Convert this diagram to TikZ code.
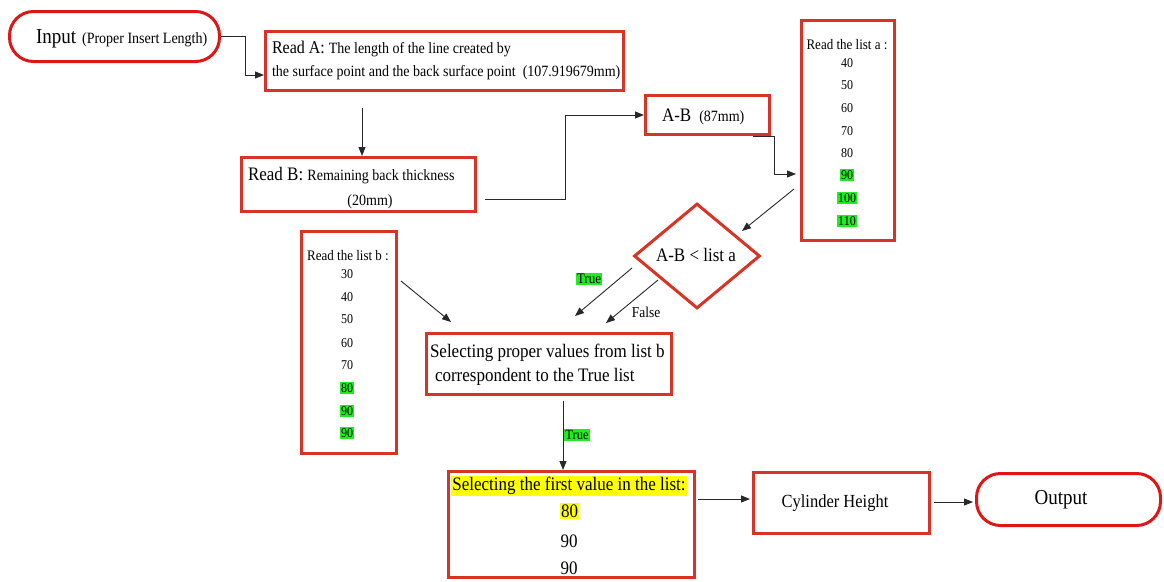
\documentclass[tikz,border=0pt]{standalone}
\usepackage{graphicx}
\usepackage{fontspec}
\setmainfont{Liberation Serif}
\usetikzlibrary{arrows.meta,shapes.geometric}

\definecolor{boxred}{RGB}{216,52,38}
\definecolor{termred}{RGB}{222,22,22}
\definecolor{hlgreen}{RGB}{30,238,30}
\definecolor{hlyellow}{RGB}{255,255,0}
\definecolor{linegray}{RGB}{40,40,40}

% font size in pt (1pt = one pixel of the drawing)
\newcommand\sz[1]{\fontsize{#1}{#1}\selectfont}
% slightly condensed-looking lettering: stretch text vertically
\newcommand\tl[1]{\scalebox{1}[1.12]{#1}}

\begin{document}
\begin{tikzpicture}[x=1pt,y=-1pt,
  box/.style={draw=boxred, line width=3pt, inner sep=0pt},
  term/.style={draw=termred, line width=3pt, rounded corners=24pt, inner sep=0pt},
  diam/.style={draw=boxred, line width=3pt, diamond, inner sep=0pt},
  txt/.style={inner sep=0pt, outer sep=0pt},
  conn/.style={draw=linegray, line width=0.9pt, -{Triangle[length=9pt,width=7pt]}},
  hlg/.style={fill=hlgreen, inner sep=1.2pt},
  hly/.style={fill=hlyellow, inner sep=1.2pt}]

\useasboundingbox (0,0) rectangle (1164,581);

% ---- shapes ----
\node[term, minimum width=210pt, minimum height=50pt] (in)  at (114.5,36.5) {};
\node[box,  minimum width=358pt, minimum height=59pt] (ra)  at (444.5,61) {};
\node[box,  minimum width=234pt, minimum height=54pt] (rb)  at (358.5,184.5) {};
\node[box,  minimum width=124pt, minimum height=39pt] (ab)  at (707.5,115) {};
\node[box,  minimum width=93pt,  minimum height=220pt] (la) at (848,130.5) {};
\node[diam, minimum width=126pt, minimum height=105pt] (dm) at (697,256) {};
\node[box,  minimum width=95pt,  minimum height=222pt] (lb) at (349,342.5) {};
\node[box,  minimum width=245pt, minimum height=61pt] (sel) at (549,364) {};
\node[box,  minimum width=246pt, minimum height=106pt] (sf) at (571.5,524.5) {};
\node[box,  minimum width=176pt, minimum height=61pt] (cyl) at (841.5,503) {};
\node[term, minimum width=184pt, minimum height=52pt] (out) at (1068.5,499.5) {};

% ---- texts ----
\node[txt, anchor=base west] (inT) at (36,43) {\tl{\sz{19}Input\hspace{6pt}\sz{14}(Proper Insert Length)}};

\node[txt, anchor=base west] (raT1) at (272,53) {\tl{\sz{16}Read A: \sz{14}The length of the line created by}};
\node[txt, anchor=base west] (raT2) at (272,76) {\tl{\sz{14}the surface point and the back surface point\ \ (107.919679mm)}};

\node[txt, anchor=base west] (rbT1) at (248,180) {\tl{\sz{17}Read B: \sz{14}Remaining back thickness}};
\node[txt, anchor=base] (rbT2) at (370,205) {\tl{\sz{14}(20mm)}};

\node[txt, anchor=base west] (abT) at (662,121) {\tl{\sz{17}A-B\hspace{8pt}\sz{14}(87mm)}};

% list a
\node[txt, anchor=base] (laT) at (847,49) {\tl{\sz{13}Read the list a :}};
\node[txt] (la1) at (847,63)  {\tl{\sz{12}40}};
\node[txt] (la2) at (847,85)  {\tl{\sz{12}50}};
\node[txt] (la3) at (847,108) {\tl{\sz{12}60}};
\node[txt] (la4) at (847,131) {\tl{\sz{12}70}};
\node[txt] (la5) at (847,153) {\tl{\sz{12}80}};
\node[hlg] (la6) at (847,175) {\tl{\sz{12}90}};
\node[hlg] (la7) at (847,198) {\tl{\sz{12}100}};
\node[hlg] (la8) at (847,221) {\tl{\sz{12}110}};

\node[txt] (dmT) at (696,255) {\tl{\sz{17}A-B < list a}};

% list b
\node[txt, anchor=base] (lbT) at (348,260) {\tl{\sz{13}Read the list b :}};
\node[txt] (lb1) at (347,274) {\tl{\sz{12}30}};
\node[txt] (lb2) at (347,297) {\tl{\sz{12}40}};
\node[txt] (lb3) at (347,319) {\tl{\sz{12}50}};
\node[txt] (lb4) at (347,343) {\tl{\sz{12}60}};
\node[txt] (lb5) at (347,365) {\tl{\sz{12}70}};
\node[hlg] (lb6) at (347,388) {\tl{\sz{12}80}};
\node[hlg] (lb7) at (347,411) {\tl{\sz{12}90}};
\node[hlg] (lb8) at (347,433) {\tl{\sz{12}90}};

\node[txt, anchor=base west] (selT1) at (430,357) {\tl{\sz{17}Selecting proper values from list b}};
\node[txt, anchor=base west] (selT2) at (435,381) {\tl{\sz{17}correspondent to the True list}};

\node[hly] (sfT) at (569,486) {\tl{\sz{17}Selecting the first value in the list:}};
\node[hly] (sf1) at (569.5,511) {\tl{\sz{17}80}};
\node[txt] (sf2) at (569,541) {\tl{\sz{17}90}};
\node[txt] (sf3) at (569,568) {\tl{\sz{17}90}};

\node[txt] (cylT) at (835,503) {\tl{\sz{16.5}Cylinder Height}};
\node[txt] (outT) at (1061,500) {\tl{\sz{19}Output}};

% labels on connectors
\node[hlg] (lblTrue1) at (589,279) {\tl{\sz{13}True}};
\node[txt] (lblFalse) at (646,312) {\tl{\sz{13.5}False}};
\node[hlg] (lblTrue2) at (577,435) {\tl{\sz{12.5}True}};

% ---- connector end points ----
\coordinate (raIn)  at (264,75);
\coordinate (raOut) at (362,108);
\coordinate (rbOut) at (485,199);
\coordinate (abOut) at (753,136);
\coordinate (laIn)  at (796,174);
\coordinate (laOut) at (794,189);
\coordinate (dmIn)  at (742,231);
\coordinate (dmTr)  at (632,268);
\coordinate (selTr) at (575,316);
\coordinate (dmFa)  at (658,280);
\coordinate (selFa) at (606,323);
\coordinate (lbOut) at (401,281);
\coordinate (selLb) at (451,322);
\coordinate (selOut) at (563,401);
\coordinate (sfOut) at (698,499);
\coordinate (cylIn) at (750,499);
\coordinate (cylOut) at (934,502);
\coordinate (outIn) at (973,502);

% ---- connectors ----
\draw[conn] (in.east) -- ++(24,0) |- (raIn);
\draw[conn] (raOut) -- (raOut |- rb.north);
\draw[conn] (rbOut) -- ++(80,0) |- (ab.west);
\draw[conn] (abOut) -- ++(21,0) |- (laIn);
\draw[conn] (laOut) -- (dmIn);
\draw[conn] (dmTr) -- (selTr);
\draw[conn] (dmFa) -- (selFa);
\draw[conn] (lbOut) -- (selLb);
\draw[conn] (selOut) -- (selOut |- sf.north);
\draw[conn] (sfOut) -- (cylIn);
\draw[conn] (cylOut) -- (outIn);

\end{tikzpicture}
\end{document}
